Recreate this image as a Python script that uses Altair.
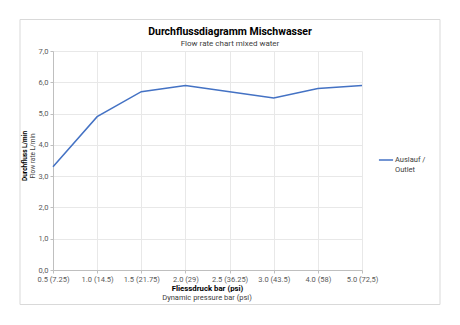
import altair as alt
import pandas as pd

categories = ["0.5 (7.25)", "1.0 (14.5)", "1.5 (21.75)", "2.0 (29)", "2.5 (36.25)",
              "3.0 (43.5)", "4.0 (58)", "5.0 (72,5)"]
flow = [3.3, 4.9, 5.7, 5.9, 5.7, 5.5, 5.8, 5.9]
series_name = "Auslauf / Outlet"
y_ticks = [0, 1, 2, 3, 4, 5, 6, 7]

FONT = "Roboto"
GREY = "#595959"
W, H = 309, 219
L, T = 53, 51

df = pd.DataFrame({"cat": categories, "flow": flow, "series": [series_name] * len(flow)})

base = alt.Chart(df)

line = base.mark_line(strokeWidth=1.5, clip=False).encode(
    x=alt.X("cat:N", sort=categories, scale=alt.Scale(type="point", padding=0),
            axis=alt.Axis(title=None, labelAngle=0, labelFontSize=7.5, labelColor=GREY,
                          labelFont=FONT, grid=True, gridColor="#e8e8e8", domainColor="#bfbfbf",
                          tickColor="#bfbfbf", tickSize=3, labelPadding=2, labelOverlap=False)),
    y=alt.Y("flow:Q", scale=alt.Scale(domain=[0, 7], nice=False),
            axis=alt.Axis(title=None, values=y_ticks, labelFontSize=7.5, labelColor=GREY,
                          labelFont=FONT, gridColor="#e8e8e8", domainColor="#bfbfbf",
                          tickColor="#bfbfbf", tickSize=3, labelPadding=2,
                          labelExpr="replace(format(datum.value, '.1f'), '.', ',')")),
    color=alt.Color("series:N", scale=alt.Scale(range=["#4472C4"]),
                    legend=alt.Legend(title=None, orient="none", legendX=325, legendY=101,
                                      symbolType="stroke", symbolSize=200, symbolStrokeWidth=1.5,
                                      labelFontSize=7.5, labelFont=FONT, labelColor="#404040",
                                      labelOffset=1,
                                      labelExpr="split(datum.label, ' / ')[0] == datum.label ? datum.label : [split(datum.label, ' / ')[0] + ' /', split(datum.label, ' / ')[1]]")),
)

frame = alt.Chart(pd.DataFrame({"k": [0]})).mark_rect(
    fill=None, stroke="#d9d9d9", strokeWidth=1, clip=False
).encode(x=alt.value(20 - L), x2=alt.value(440 - L), y=alt.value(19.5 - T), y2=alt.value(304.5 - T))

def label(text, x, y, size, bold=False, angle=0, color=GREY):
    return alt.Chart(pd.DataFrame({"t": [text]})).mark_text(
        font=FONT, fontSize=size, fontWeight="bold" if bold else "normal",
        color=color, angle=angle, align="center", baseline="middle", clip=False
    ).encode(text="t:N", x=alt.value(x - L), y=alt.value(y - T))

title1 = label("Durchflussdiagramm Mischwasser", 230, 32, 10.5, bold=True, color="#000000")
title2 = label("Flow rate chart mixed water", 230, 44, 8, color="#404040")
ytitle1 = label("Durchfluss L/min", 25, 156, 6.5, bold=True, angle=270, color="#000000")
ytitle2 = label("Flow rate L/min", 33, 156, 6.5, angle=270, color="#404040")
xtitle1 = label("Fliessdruck bar (psi)", 207.5, 288.5, 7.8, bold=True, color="#000000")
xtitle2 = label("Dynamic pressure bar (psi)", 207, 297.5, 7.5, color="#404040")

chart = alt.layer(frame, line, title1, title2, ytitle1, ytitle2, xtitle1, xtitle2).properties(
    width=W, height=H,
    autosize=alt.AutoSizeParams(type="none"),
    padding={"left": L, "top": T, "right": 460 - L - W, "bottom": 325 - T - H},
    background="white",
).configure_view(stroke=None)

chart.save("out.html", embed_options={"renderer": "svg", "actions": False})
